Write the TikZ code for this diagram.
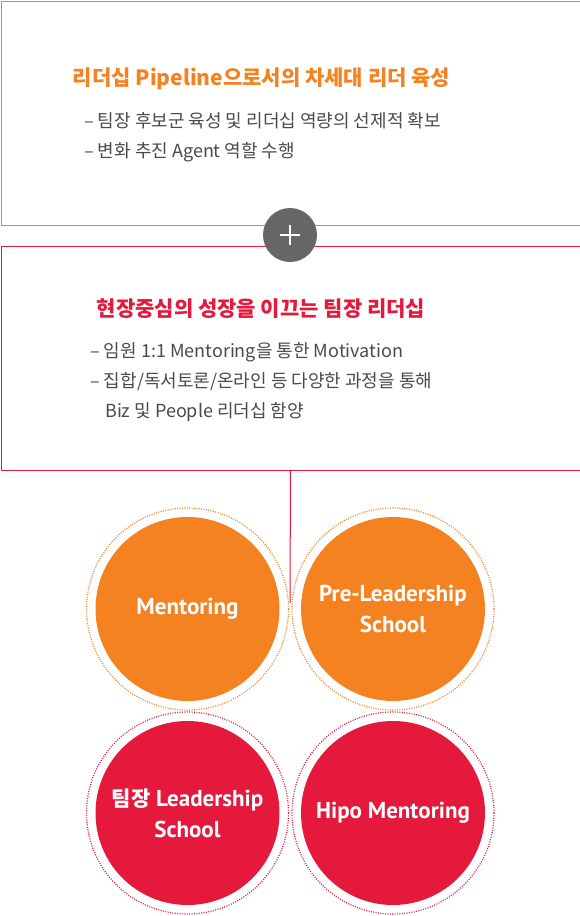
\documentclass[tikz,border=0pt]{standalone}
\usepackage{fontspec}
\setmainfont{Noto Sans CJK KR}
\newfontfamily\discfont{PT Sans}
\usetikzlibrary{positioning}
\definecolor{oc}{HTML}{F58220}
\definecolor{rc}{HTML}{E4193B}
\definecolor{tc}{HTML}{4A4A4A}
\definecolor{pg}{HTML}{666666}

\begin{document}
\begin{tikzpicture}[
    x=1pt, y=-1pt,
    panel/.style={draw, line width=1pt, anchor=north west, inner sep=0pt,
                  minimum width=579pt, minimum height=224pt},
    head/.style={anchor=base, inner sep=0pt,
                 font=\fontsize{21}{25}\selectfont\bfseries},
    item/.style={anchor=base west, inner sep=0pt, text=tc,
                 font=\fontsize{18}{22}\selectfont},
    ring/.style={circle, draw, minimum size=202pt, inner sep=0pt,
                 line width=1.2pt, dash pattern=on 1pt off 1.4pt},
    disc/.style={circle, minimum size=184pt, inner sep=0pt, text=white,
                 align=center, font=\discfont\fontsize{23}{31}\selectfont\bfseries},
]
\useasboundingbox (0,0) rectangle (580,916);

% upper panel
\node[panel, draw=oc] (pipe) at (0.5,0.5) {};
\node[head, text=oc] (pipehead) at (261.5,85) {리더십 Pipeline으로서의 차세대 리더 육성};
\node[item] (pipeA) at (84,127) {– 팀장 후보군 육성 및 리더십 역량의 선제적 확보};
\node[item] (pipeB) at (84,157) {– 변화 추진 Agent 역할 수행};

% lower panel
\node[panel, draw=rc] (lead) at (0.5,245.5) {};
\node[head, text=rc] (leadhead) at (261,316) {현장중심의 성장을 이끄는 팀장 리더십};
\node[item] (leadA) at (90,357) {– 임원 1:1 Mentoring을 통한 Motivation};
\node[item] (leadB) at (90,387) {– 집합/독서토론/온라인 등 다양한 과정을 통해};
\node[item] (leadC) at (105,417) {Biz 및 People 리더십 함양};

% plus badge
\node[circle, fill=pg, minimum size=54pt, inner sep=0pt] (plus) at (290,235) {};
\draw[white, line width=1.5pt] ([xshift=-10pt]plus.center) -- ([xshift=10pt]plus.center);
\draw[white, line width=1.5pt] ([yshift=-10pt]plus.center) -- ([yshift=10pt]plus.center);

% stem
\coordinate (stem) at (290,603);
\draw[rc, line width=1pt] (lead.south) -- (stem);

% programmes
\node[ring, draw=oc] (mentorR) at (187.5,609) {};
\node[ring, draw=oc] (preR)    at (393,609) {};
\node[ring, draw=rc] (teamR)   at (187.5,813) {};
\node[ring, draw=rc] (hipoR)   at (393,813) {};

\node[disc, fill=oc] (mentor) at (mentorR.center) {Mentoring};
\node[disc, fill=oc] (pre)    at (preR.center)    {Pre-Leadership\\School};
\node[disc, fill=rc] (team)   at (teamR.center)
     {{\rmfamily\fontsize{21}{31}\selectfont\bfseries 팀장} Leadership\\School};
\node[disc, fill=rc] (hipo)   at (hipoR.center)   {Hipo Mentoring};
\end{tikzpicture}
\end{document}
